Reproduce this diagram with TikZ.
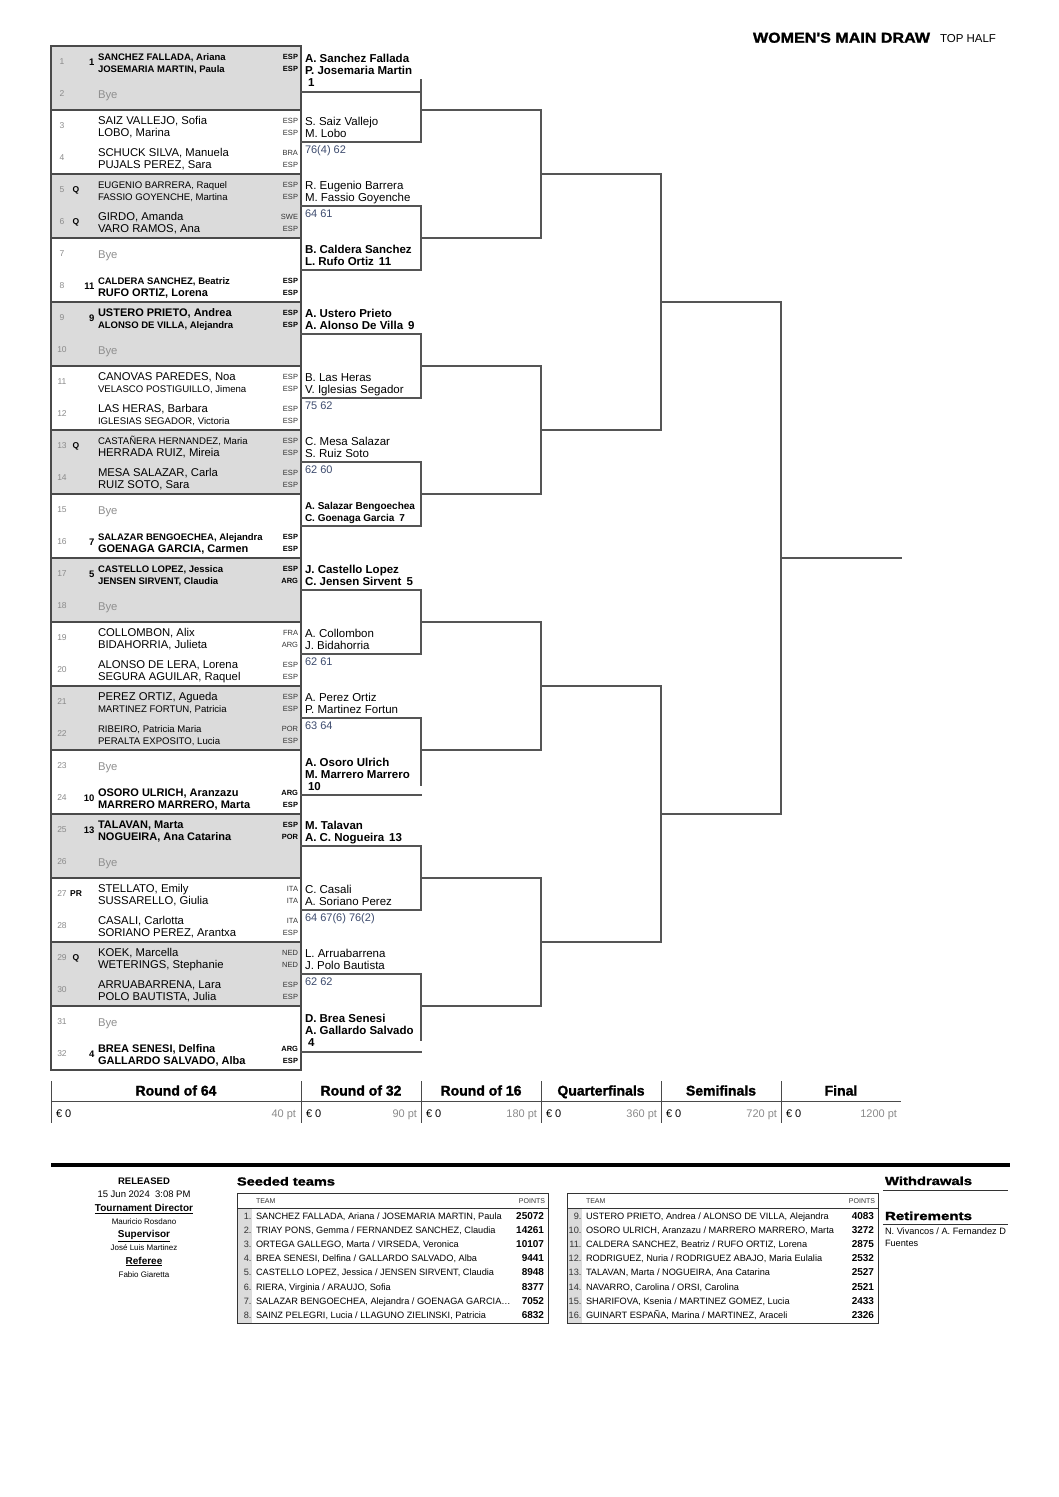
\documentclass[tikz,border=0pt]{standalone}
\usepackage{fontspec}
\usepackage{graphicx}
\setmainfont{Liberation Sans}
\newfontfamily\heavy[BoldFeatures={FakeBold=1.6}]{Liberation Sans}
\newcommand\fs[1]{\fontsize{#1}{#1}\selectfont}
\definecolor{rowgrey}{HTML}{DBDBDB}
\definecolor{numgrey}{HTML}{8A8A8A}
\definecolor{byegrey}{HTML}{8F8F8F}
\definecolor{scorecol}{HTML}{3D4B6E}
\definecolor{linecol}{HTML}{555555}
\definecolor{tabline}{HTML}{4A4A4A}
\definecolor{ptgrey}{HTML}{8A8A8A}
\definecolor{natcol}{HTML}{333333}

\newcommand\entry[9]{%
  \pgfmathsetmacro\yy{46+32*(#1-1)}%
  \def\tmpseed{#2}\def\tmptag{#3}%
  \ifx\tmpseed\empty\tikzset{natst/.style={nat}}\else\tikzset{natst/.style={natB}}\fi
  \node[rownum] (rn#1) at (62,\yy+16) {#1};
  \ifx\tmpseed\empty\else\node[seedst] (sd#1) at (94.5,\yy+16.5) {#2};\fi
  \ifx\tmptag\empty\else\node[tagst] (tg#1) at (76,\yy+16) {#3};\fi
  \node[#4] (na#1) at (98,\yy+14.5) {#5};
  \node[natst] (ca#1) at (298,\yy+13.8) {#6};
  \node[#7] (nb#1) at (98,\yy+26) {#8};
  \node[natst] (cb#1) at (298,\yy+25.3) {#9};
}
\newcommand\byerow[1]{%
  \pgfmathsetmacro\yy{46+32*(#1-1)}%
  \node[rownum] (rn#1) at (62,\yy+16) {#1};
  \node[byest] (by#1) at (98,\yy+20) {Bye};
}
\newcommand\wslot[6]{%
  \node[#3] (wa#1) at (305,#2-16.5) {#4};
  \node[#3] (wb#1) at (305,#2-5) {#5};
  \def\tmpsc{#6}%
  \ifx\tmpsc\empty\else\node[scorest] (sc#1) at (305,#2+11.5) {#6};\fi
}
\newcommand\seedrow[5]{%
  \pgfmathsetmacro\sy{1219.3+14.15*(#2-1)}%
  \node[snum] (sn#3) at (#1+14.5,\sy) {#3.};
  \node[steam] (st#3) at (#1+19,\sy) {#4};
  \node[spts] (sp#3) at (#1+307,\sy) {#5};
}

\begin{document}
\begin{tikzpicture}[x=1pt,y=-1pt,
  every node/.style={inner sep=0pt,outer sep=0pt},
  rownum/.style={font=\fs{8.5},text=numgrey,anchor=center},
  seedst/.style={font=\fs{9.5}\bfseries,anchor=east},
  tagst/.style={font=\fs{8.5}\bfseries,anchor=center},
  nL/.style={font=\fs{11.3},anchor=base west},
  nS/.style={font=\fs{9.6},anchor=base west},
  bL/.style={font=\fs{11}\bfseries,anchor=base west},
  bS/.style={font=\fs{9.5}\bfseries,anchor=base west},
  nat/.style={font=\fs{7.5},text=natcol,anchor=base east},
  natB/.style={font=\fs{7.5}\bfseries,anchor=base east},
  byest/.style={font=\fs{11.3},text=byegrey,anchor=base west},
  wn/.style={font=\fs{11.5},anchor=base west},
  wb/.style={font=\fs{11.5}\bfseries,anchor=base west},
  wbs/.style={font=\fs{10}\bfseries,anchor=base west},
  scorest/.style={font=\fs{11},text=scorecol,anchor=base west},
  br/.style={draw=linecol,line width=1.3pt,line cap=rect},
  tab/.style={draw=tabline,line width=1.5pt,line cap=rect},
  rhead/.style={font=\fs{14}\heavy\bfseries,anchor=base},
  eur/.style={font=\fs{11},anchor=base west},
  pts/.style={font=\fs{11},text=ptgrey,anchor=base east},
  snum/.style={font=\fs{9.2},text=natcol,anchor=base east},
  steam/.style={font=\fs{9.2},anchor=base west},
  spts/.style={font=\fs{10}\bfseries,anchor=base east},
  shdr/.style={font=\fs{7},text=natcol},
  info/.style={font=\fs{9.5},anchor=base},
  infob/.style={font=\fs{10}\bfseries,anchor=base},
  infos/.style={font=\fs{8},anchor=base}]
\useasboundingbox (0,0) rectangle (1058,1497);

% title
\node[anchor=base west] (title) at (753,42.7) {\resizebox{177pt}{10pt}{\heavy\bfseries WOMEN'S MAIN DRAW}};
\node[font=\fs{11.5},anchor=base west] (half) at (940,42) {TOP HALF};

% R64 table
\foreach \p in {0,2,...,14} \fill[rowgrey] (51,46+64*\p) rectangle (301,110+64*\p);
\foreach \p in {0,...,16} \draw[tab] (51,46+64*\p) -- (301,46+64*\p);
\draw[tab] (51,46) -- (51,1070);
\draw[tab] (301,46) -- (301,1070);

\entry{1}{1}{}{bS}{SANCHEZ FALLADA, Ariana}{ESP}{bS}{JOSEMARIA MARTIN, Paula}{ESP}
\byerow{2}
\entry{3}{}{}{nL}{SAIZ VALLEJO, Sofia}{ESP}{nL}{LOBO, Marina}{ESP}
\entry{4}{}{}{nL}{SCHUCK SILVA, Manuela}{BRA}{nL}{PUJALS PEREZ, Sara}{ESP}
\entry{5}{}{Q}{nS}{EUGENIO BARRERA, Raquel}{ESP}{nS}{FASSIO GOYENCHE, Martina}{ESP}
\entry{6}{}{Q}{nL}{GIRDO, Amanda}{SWE}{nL}{VARO RAMOS, Ana}{ESP}
\byerow{7}
\entry{8}{11}{}{bS}{CALDERA SANCHEZ, Beatriz}{ESP}{bL}{RUFO ORTIZ, Lorena}{ESP}
\entry{9}{9}{}{bL}{USTERO PRIETO, Andrea}{ESP}{bS}{ALONSO DE VILLA, Alejandra}{ESP}
\byerow{10}
\entry{11}{}{}{nL}{CANOVAS PAREDES, Noa}{ESP}{nS}{VELASCO POSTIGUILLO, Jimena}{ESP}
\entry{12}{}{}{nL}{LAS HERAS, Barbara}{ESP}{nS}{IGLESIAS SEGADOR, Victoria}{ESP}
\entry{13}{}{Q}{nS}{CASTAÑERA HERNANDEZ, Maria}{ESP}{nL}{HERRADA RUIZ, Mireia}{ESP}
\entry{14}{}{}{nL}{MESA SALAZAR, Carla}{ESP}{nL}{RUIZ SOTO, Sara}{ESP}
\byerow{15}
\entry{16}{7}{}{bS}{SALAZAR BENGOECHEA, Alejandra}{ESP}{bL}{GOENAGA GARCIA, Carmen}{ESP}
\entry{17}{5}{}{bS}{CASTELLO LOPEZ, Jessica}{ESP}{bS}{JENSEN SIRVENT, Claudia}{ARG}
\byerow{18}
\entry{19}{}{}{nL}{COLLOMBON, Alix}{FRA}{nL}{BIDAHORRIA, Julieta}{ARG}
\entry{20}{}{}{nL}{ALONSO DE LERA, Lorena}{ESP}{nL}{SEGURA AGUILAR, Raquel}{ESP}
\entry{21}{}{}{nL}{PEREZ ORTIZ, Agueda}{ESP}{nS}{MARTINEZ FORTUN, Patricia}{ESP}
\entry{22}{}{}{nS}{RIBEIRO, Patricia Maria}{POR}{nS}{PERALTA EXPOSITO, Lucia}{ESP}
\byerow{23}
\entry{24}{10}{}{bL}{OSORO ULRICH, Aranzazu}{ARG}{bL}{MARRERO MARRERO, Marta}{ESP}
\entry{25}{13}{}{bL}{TALAVAN, Marta}{ESP}{bL}{NOGUEIRA, Ana Catarina}{POR}
\byerow{26}
\entry{27}{}{PR}{nL}{STELLATO, Emily}{ITA}{nL}{SUSSARELLO, Giulia}{ITA}
\entry{28}{}{}{nL}{CASALI, Carlotta}{ITA}{nL}{SORIANO PEREZ, Arantxa}{ESP}
\entry{29}{}{Q}{nL}{KOEK, Marcella}{NED}{nL}{WETERINGS, Stephanie}{NED}
\entry{30}{}{}{nL}{ARRUABARRENA, Lara}{ESP}{nL}{POLO BAUTISTA, Julia}{ESP}
\byerow{31}
\entry{32}{4}{}{bL}{BREA SENESI, Delfina}{ARG}{bL}{GALLARDO SALVADO, Alba}{ESP}

% Round of 32 winners
\node[wb] (wa1) at (305,62) {A. Sanchez Fallada};
\node[wb] (wb1) at (305,74) {P. Josemaria Martin};
\node[wb] (wc1) at (308,86.5) {1};
\wslot{2}{142}{wn}{S. Saiz Vallejo}{M. Lobo}{76(4) 62}
\wslot{3}{206}{wn}{R. Eugenio Barrera}{M. Fassio Goyenche}{64 61}
\wslot{4}{270}{wb}{B. Caldera Sanchez}{L. Rufo Ortiz\hspace{5pt}11}{}
\wslot{5}{334}{wb}{A. Ustero Prieto}{A. Alonso De Villa\hspace{5pt}9}{}
\wslot{6}{398}{wn}{B. Las Heras}{V. Iglesias Segador}{75 62}
\wslot{7}{462}{wn}{C. Mesa Salazar}{S. Ruiz Soto}{62 60}
\wslot{8}{526}{wbs}{A. Salazar Bengoechea}{C. Goenaga Garcia\hspace{5pt}7}{}
\wslot{9}{590}{wb}{J. Castello Lopez}{C. Jensen Sirvent\hspace{5pt}5}{}
\wslot{10}{654}{wn}{A. Collombon}{J. Bidahorria}{62 61}
\wslot{11}{718}{wn}{A. Perez Ortiz}{P. Martinez Fortun}{63 64}
\node[wb] (wa12) at (305,766) {A. Osoro Ulrich};
\node[wb] (wb12) at (305,778) {M. Marrero Marrero};
\node[wb] (wc12) at (308,790.5) {10};
\wslot{13}{846}{wb}{M. Talavan}{A. C. Nogueira\hspace{5pt}13}{}
\wslot{14}{910}{wn}{C. Casali}{A. Soriano Perez}{64 67(6) 76(2)}
\wslot{15}{974}{wn}{L. Arruabarrena}{J. Polo Bautista}{62 62}
\node[wb] (wa16) at (305,1022) {D. Brea Senesi};
\node[wb] (wb16) at (305,1034) {A. Gallardo Salvado};
\node[wb] (wc16) at (308,1046.5) {4};

% bracket lines
\foreach \k/\y in {1/92,2/142,3/206,4/270,5/334,6/398,7/462,8/526,9/590,10/654,11/718,12/795,13/846,14/910,15/974,16/1052}{
  \coordinate (sL\k) at (301,\y);
  \coordinate (sR\k) at (421,\y);
  \draw[br] (sL\k) -- (sR\k);
}
\foreach \k/\y in {1/80,2/142,3/206,4/270,5/334,6/398,7/462,8/526,9/590,10/654,11/718,12/785,13/846,14/910,15/974,16/1040}{
  \coordinate (t\k) at (421,\y);
}
\foreach \j in {1,...,8}{
  \pgfmathtruncatemacro\ka{2*\j-1}
  \pgfmathtruncatemacro\kb{2*\j}
  \pgfmathsetmacro\ym{128*\j-18}
  \coordinate (rL\j) at (421,\ym);
  \coordinate (rR\j) at (541,\ym);
  \draw[br] (t\ka) -- (t\kb);
  \draw[br] (rL\j) -- (rR\j);
}
\foreach \m in {1,...,4}{
  \pgfmathtruncatemacro\ja{2*\m-1}
  \pgfmathtruncatemacro\jb{2*\m}
  \pgfmathsetmacro\ym{256*\m-82}
  \coordinate (qL\m) at (541,\ym);
  \coordinate (qR\m) at (661,\ym);
  \draw[br] (rR\ja) -- (rR\jb);
  \draw[br] (qL\m) -- (qR\m);
}
\foreach \n in {1,2}{
  \pgfmathtruncatemacro\ma{2*\n-1}
  \pgfmathtruncatemacro\mb{2*\n}
  \pgfmathsetmacro\ym{512*\n-210}
  \coordinate (fL\n) at (661,\ym);
  \coordinate (fR\n) at (781,\ym);
  \draw[br] (qR\ma) -- (qR\mb);
  \draw[br] (fL\n) -- (fR\n);
}
\coordinate (gL) at (781,558);
\coordinate (gR) at (901,558);
\draw[br] (fR1) -- (fR2);
\draw[br] (gL) -- (gR);

% rounds table
\foreach \x in {51,301,421,541,661,781} \draw[draw=tabline,line width=1pt] (\x,1081) -- (\x,1123);
\draw[draw=tabline,line width=1pt] (51,1101) -- (901,1101);
\node[rhead] (h64) at (176,1095.5) {Round of 64};
\node[rhead] (h32) at (361,1095.5) {Round of 32};
\node[rhead] (h16) at (481,1095.5) {Round of 16};
\node[rhead] (hqf) at (601,1095.5) {Quarterfinals};
\node[rhead] (hsf) at (721,1095.5) {Semifinals};
\node[rhead] (hf) at (841,1095.5) {Final};
\foreach \x/\xe/\v [count=\i] in {51/296/40,301/417/90,421/537/180,541/657/360,661/777/720,781/897/1200}{
  \node[eur] (e\i) at (\x+5,1117) {€ 0};
  \node[pts] (p\i) at (\xe,1117) {\v\ pt};
}

% bottom
\draw[line width=4.5pt] (51,1165) -- (1010,1165);
\node[infob,font=\fs{9.5}\bfseries] (rel) at (144,1184) {RELEASED};
\node[info] (date) at (144,1197.5) {15 Jun 2024\ \ 3:08 PM};
\node[infob] (td) at (144,1211.5) {\underline{Tournament Director}};
\node[infos] (tdn) at (144,1224) {Mauricio Rosdano};
\node[infob] (sv) at (144,1237.5) {\underline{Supervisor}};
\node[infos] (svn) at (144,1250.5) {José Luis Martinez};
\node[infob] (rf) at (144,1264) {\underline{Referee}};
\node[infos] (rfn) at (144,1277) {Fabio Giaretta};

\node[anchor=base west] (sdt) at (237,1185.5) {\resizebox{98pt}{8.5pt}{\heavy\bfseries Seeded teams}};
\foreach \bx in {237,567}{
  \fill[rowgrey] (\bx,1208) rectangle (\bx+15,1323);
  \draw[draw=natcol,line width=1pt] (\bx,1193) rectangle (\bx+311,1323);
  \draw[draw=natcol,line width=0.8pt] (\bx,1208) -- (\bx+311,1208);
  \node[shdr,anchor=base west] (team\bx) at (\bx+19,1203.5) {TEAM};
  \node[shdr,anchor=base east] (pnts\bx) at (\bx+308,1203.5) {POINTS};
}
\seedrow{237}{1}{1}{SANCHEZ FALLADA, Ariana / JOSEMARIA MARTIN, Paula}{25072}
\seedrow{237}{2}{2}{TRIAY PONS, Gemma / FERNANDEZ SANCHEZ, Claudia}{14261}
\seedrow{237}{3}{3}{ORTEGA GALLEGO, Marta / VIRSEDA, Veronica}{10107}
\seedrow{237}{4}{4}{BREA SENESI, Delfina / GALLARDO SALVADO, Alba}{9441}
\seedrow{237}{5}{5}{CASTELLO LOPEZ, Jessica / JENSEN SIRVENT, Claudia}{8948}
\seedrow{237}{6}{6}{RIERA, Virginia / ARAUJO, Sofia}{8377}
\seedrow{237}{7}{7}{SALAZAR BENGOECHEA, Alejandra / GOENAGA GARCIA…}{7052}
\seedrow{237}{8}{8}{SAINZ PELEGRI, Lucia / LLAGUNO ZIELINSKI, Patricia}{6832}
\seedrow{567}{1}{9}{USTERO PRIETO, Andrea / ALONSO DE VILLA, Alejandra}{4083}
\seedrow{567}{2}{10}{OSORO ULRICH, Aranzazu / MARRERO MARRERO, Marta}{3272}
\seedrow{567}{3}{11}{CALDERA SANCHEZ, Beatriz / RUFO ORTIZ, Lorena}{2875}
\seedrow{567}{4}{12}{RODRIGUEZ, Nuria / RODRIGUEZ ABAJO, Maria Eulalia}{2532}
\seedrow{567}{5}{13}{TALAVAN, Marta / NOGUEIRA, Ana Catarina}{2527}
\seedrow{567}{6}{14}{NAVARRO, Carolina / ORSI, Carolina}{2521}
\seedrow{567}{7}{15}{SHARIFOVA, Ksenia / MARTINEZ GOMEZ, Lucia}{2433}
\seedrow{567}{8}{16}{GUINART ESPAÑA, Marina / MARTINEZ, Araceli}{2326}

\node[anchor=base west] (wdr) at (885,1185) {\resizebox{87pt}{8.5pt}{\heavy\bfseries Withdrawals}};
\draw[draw=natcol,line width=1pt] (883,1190) -- (1008,1190);
\node[anchor=base west] (ret) at (885,1220) {\resizebox{87pt}{8.5pt}{\heavy\bfseries Retirements}};
\draw[draw=natcol,line width=1pt] (883,1224) -- (1008,1224);
\node[font=\fs{9.2},anchor=base west] (ret1) at (885,1234.5) {N. Vivancos / A. Fernandez D};
\node[font=\fs{9.2},anchor=base west] (ret2) at (885,1246.5) {Fuentes};
\end{tikzpicture}
\end{document}
